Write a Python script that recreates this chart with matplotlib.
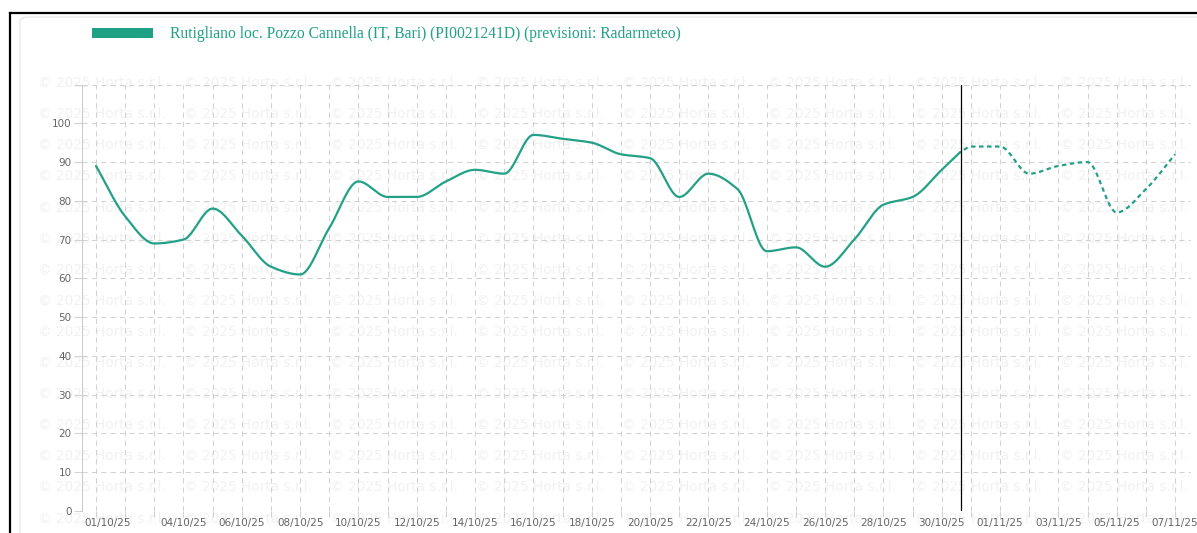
import matplotlib
matplotlib.use('Agg')
import matplotlib.pyplot as plt
import matplotlib.transforms as mtransforms
from matplotlib.patches import FancyBboxPatch, Rectangle
from matplotlib.lines import Line2D
import numpy as np
import pandas as pd

# observed series (daily, last point is partial day)
obs_times = ['2025-10-01', '2025-10-02', '2025-10-03', '2025-10-04', '2025-10-05',
             '2025-10-06', '2025-10-07', '2025-10-08', '2025-10-09', '2025-10-10',
             '2025-10-11', '2025-10-12', '2025-10-13', '2025-10-14', '2025-10-15',
             '2025-10-16', '2025-10-17', '2025-10-18', '2025-10-19', '2025-10-20',
             '2025-10-21', '2025-10-22', '2025-10-23', '2025-10-24', '2025-10-25',
             '2025-10-26', '2025-10-27', '2025-10-28', '2025-10-29', '2025-10-30',
             '2025-10-30 15:00']
obs_values = [89, 76, 69, 70, 78, 71, 63, 61, 73, 85,
              81, 81, 85, 88, 87, 97, 96, 95, 92, 91,
              81, 87, 83, 67, 68, 63, 70, 79, 81, 88, 92.5]

# forecast (previsioni)
fc_times = ['2025-10-30 15:00', '2025-10-31', '2025-11-01', '2025-11-02', '2025-11-03',
            '2025-11-04', '2025-11-05', '2025-11-06', '2025-11-07']
fc_values = [92.5, 94, 94, 87, 89, 90, 77, 83, 92]

now_time = '2025-10-30 16:15'
start = pd.Timestamp('2025-10-01')
end = pd.Timestamp('2025-11-07')

legend_label = 'Rutigliano loc. Pozzo Cannella (IT, Bari) (PI0021241D) (previsioni: Radarmeteo)'
watermark = '\u00a9 2025 Horta s.r.l.'

green = '#23a187'
grid_c = '#d2d2d2'


def to_days(ts):
    return np.array([(pd.Timestamp(t) - start) / pd.Timedelta(days=1) for t in ts])


def monotone(x, y, n=25):
    x = np.asarray(x, float); y = np.asarray(y, float)
    h = np.diff(x); d = np.diff(y) / h
    m = np.zeros_like(y)
    m[0] = d[0]; m[-1] = d[-1]
    for k in range(1, len(y) - 1):
        if d[k - 1] * d[k] <= 0:
            m[k] = 0
        else:
            w1 = 2 * h[k] + h[k - 1]; w2 = h[k] + 2 * h[k - 1]
            m[k] = (w1 + w2) / (w1 / d[k - 1] + w2 / d[k])
    xs, ys = [], []
    for k in range(len(h)):
        t = np.linspace(0, 1, n)
        h00 = 2 * t**3 - 3 * t**2 + 1; h10 = t**3 - 2 * t**2 + t
        h01 = -2 * t**3 + 3 * t**2; h11 = t**3 - t**2
        xs.append(x[k] + t * h[k])
        ys.append(h00 * y[k] + h10 * h[k] * m[k] + h01 * y[k + 1] + h11 * h[k] * m[k + 1])
    return np.concatenate(xs), np.concatenate(ys)


W, H = 1197, 533
fig = plt.figure(figsize=(W / 100, H / 100), dpi=100)
fig.patch.set_facecolor('white')

# outer frame + inner panel
fig.add_artist(Line2D([10 / W, 1.0], [1 - 13 / H, 1 - 13 / H], color='black', lw=1.6))
fig.add_artist(Line2D([10 / W, 10 / W], [0, 1 - 13 / H], color='black', lw=1.6))
fig.add_artist(FancyBboxPatch((20 / W, -0.2), 1.2, 1 - 17 / H + 0.2,
                              boxstyle='round,pad=0,rounding_size=0.008',
                              transform=fig.transFigure, fc='none', ec='#e3e3e3', lw=0.8))

# watermark
for r in range(15):
    for c in range(8):
        fig.text((38 + 146 * c) / W, 1 - (83 + 31.1 * r) / H, watermark,
                 fontsize=9.8, color='#f1f1f1', ha='left', va='center', zorder=-1)

ax = fig.add_axes([82 / W, 1 - 511 / H, (1190.5 - 82) / W, (511 - 84.5) / H])
ax.set_facecolor('none')

days = np.arange(0, (end - start).days + 1)
ax.set_xlim(-0.48, days[-1] + 0.53)
ax.set_ylim(0, 110)

ax.set_xticks(days)
labeled = [0] + list(range(3, len(days), 2))
xlabels = [(start + pd.Timedelta(days=int(d))).strftime('%d/%m/%y') if d in labeled else ''
           for d in days]
ax.set_xticklabels(xlabels)
ax.set_yticks(np.arange(0, 111, 10))
ax.set_yticklabels([str(v) if v <= 100 else '' for v in range(0, 111, 10)])

ax.tick_params(axis='x', length=4, color=grid_c, labelsize=7.5, labelcolor='#666666', pad=1)
ax.tick_params(axis='y', length=6, color=grid_c, labelsize=7.5, labelcolor='#666666', pad=1.5)
ax.grid(True, color=grid_c, lw=0.75, ls=(0, (5, 4)))
for s in ['top', 'right', 'bottom']:
    ax.spines[s].set_visible(False)
ax.spines['left'].set_color('#cccccc')
ax.spines['left'].set_linewidth(0.8)
ax.axvline(ax.get_xlim()[1], color=grid_c, lw=0.75, ls=(0, (5, 4)))

# shift first x label right like the original
lbl0 = ax.get_xticklabels()[0]
lbl0.set_transform(lbl0.get_transform() + mtransforms.ScaledTranslation(12 / 100, 0, fig.dpi_scale_trans))

xo, yo = monotone(to_days(obs_times), obs_values)
ax.plot(xo, yo, color=green, lw=1.6, solid_capstyle='round', zorder=3)
xf, yf = monotone(to_days(fc_times), fc_values)
ax.plot(xf, yf, color=green, lw=1.6, ls=(1.5, (2, 1.6)), zorder=3)

ax.axvline(to_days([now_time])[0], color='black', lw=0.9, zorder=4)

# legend
fig.add_artist(Rectangle((92 / W, 1 - 38 / H), 61 / W, 10 / H, transform=fig.transFigure,
                         fc='#1fa185', ec='none'))
fig.text(170 / W, 1 - 34.5 / H, legend_label, fontsize=11.25, family='Liberation Serif',
         color=green, ha='left', va='center')

fig.savefig('out.png', dpi=100)
